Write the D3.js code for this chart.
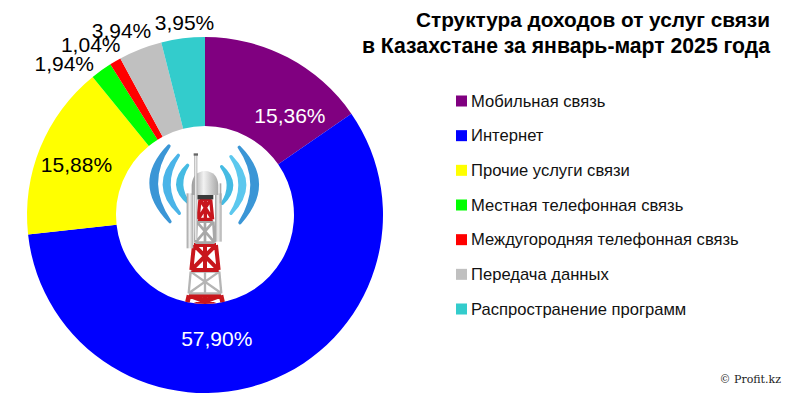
<!DOCTYPE html>
<html>
<head>
<meta charset="utf-8">
<script src="https://cdn.jsdelivr.net/npm/d3@7/dist/d3.min.js"></script>
<style>
html, body { margin: 0; padding: 0; background: #fff; }
svg { display: block; }
text { font-family: "Liberation Sans", Arial, sans-serif; }
</style>
</head>
<body>
<svg id="chart" width="800" height="400"></svg>
<script>
var categories = [
    "Мобильная связь",
    "Интернет",
    "Прочие услуги связи",
    "Местная телефонная связь",
    "Междугородняя телефонная связь",
    "Передача данных",
    "Распространение программ"
];
var values = [15.36, 57.90, 15.88, 1.94, 1.04, 3.94, 3.95];
var colors = ["#800080", "#0000ff", "#ffff00", "#00ff00", "#ff0000", "#c0c0c0", "#33cccc"];
var labelColors = ["#fff", "#fff", "#000", "#000", "#000", "#000", "#000"];
var titleLines = ["Структура доходов от услуг связи", "в Казахстане за январь-март 2025 года"];

// label offsets from the slice centroid, the source chart moved them by hand
var labelShift = [[23, 19], [-35, -1], [-5, 0], [-63, -43], [-47, -55], [-35, -60], [-4, -60]];

var svg = d3.select("#chart");
var cx = 205, cy = 215, outerR = 178, innerR = 89;

var pie = d3.pie().sort(null).value(function (d) { return d; });
var arc = d3.arc().innerRadius(innerR).outerRadius(outerR);
var slices = pie(values);

var g = svg.append("g").attr("transform", "translate(" + cx + "," + cy + ")");
g.selectAll("path.slice")
    .data(slices)
    .enter().append("path")
    .attr("class", "slice")
    .attr("d", arc)
    .attr("fill", function (d, i) { return colors[i]; });

function fmt(v) { return v.toFixed(2).replace(".", ",") + "%"; }

g.selectAll("text.label")
    .data(slices)
    .enter().append("text")
    .attr("class", "label")
    .attr("text-anchor", "middle")
    .attr("dy", "0.35em")
    .attr("font-size", 21)
    .attr("fill", function (d, i) { return labelColors[i]; })
    .attr("x", function (d, i) { return arc.centroid(d)[0] + labelShift[i][0]; })
    .attr("y", function (d, i) { return arc.centroid(d)[1] + labelShift[i][1]; })
    .text(function (d) { return fmt(d.value); });

// tower picture in the hole, local units are 3x screen pixels
svg.append("clipPath").attr("id", "hole")
    .append("circle").attr("cx", cx).attr("cy", cy).attr("r", innerR);
var tower = svg.append("g").attr("clip-path", "url(#hole)")
    .append("g").attr("transform", "translate(120,130) scale(0.3333)");

var waves = [
    ["M147,48 Q38,160 150,275 Q70,160 147,48 Z", "#3b96d6"],
    ["M175,76 Q89,165 178,250 Q118,165 175,76 Z", "#4ab4e8"],
    ["M203,106 Q141,165 207,220 Q165,165 203,106 Z", "#45bbe3"],
    ["M358,52 Q465,160 360,278 Q433,160 358,52 Z", "#3b96d6"],
    ["M333,80 Q415,165 333,250 Q387,165 333,80 Z", "#5cc8ee"],
    ["M305,110 Q364,165 307,220 Q344,165 305,110 Z", "#45bbe3"]
];
tower.selectAll("path.wave").data(waves).enter().append("path")
    .attr("class", "wave")
    .attr("d", function (d) { return d[0]; })
    .attr("fill", function (d) { return d[1]; })
    .attr("stroke", function (d) { return d[1]; })
    .attr("stroke-width", 10)
    .attr("stroke-linejoin", "round");

var grayGrad = svg.append("linearGradient").attr("id", "metal");
grayGrad.append("stop").attr("offset", "0").attr("stop-color", "#9a9a9a");
grayGrad.append("stop").attr("offset", "0.45").attr("stop-color", "#f2f2f2");
grayGrad.append("stop").attr("offset", "1").attr("stop-color", "#a8a8a8");

function lattice(x1top, x2top, x1bot, x2bot, y1, y2, color, w) {
    var p = "M" + x1top + "," + y1 + "L" + x1bot + "," + y2 +
        "M" + x2top + "," + y1 + "L" + x2bot + "," + y2 +
        "M" + x1top + "," + y1 + "L" + x2bot + "," + y2 +
        "M" + x2top + "," + y1 + "L" + x1bot + "," + y2 +
        "M" + x1top + "," + y1 + "L" + x2top + "," + y1 +
        "M" + x1bot + "," + y2 + "L" + x2bot + "," + y2 +
        "M" + (x1top + x2top) / 2 + "," + y1 + "L" + (x1bot + x2bot) / 2 + "," + y2;
    tower.append("path").attr("d", p).attr("stroke", color).attr("stroke-width", w).attr("fill", "none");
}

lattice(207, 303, 198, 312, 496, 535, "#c8161d", 14);
lattice(212, 298, 206, 304, 425, 490, "#b5b5b5", 7);
lattice(222, 288, 214, 296, 345, 420, "#c8161d", 12);
lattice(230, 280, 226, 284, 275, 338, "#a8a8a8", 8);
lattice(240, 272, 234, 278, 208, 268, "#c8161d", 10);

// side panels, mast and dome
tower.append("rect").attr("x", 200).attr("y", 190).attr("width", 20).attr("height", 165).attr("fill", "url(#metal)");
tower.append("rect").attr("x", 285).attr("y", 190).attr("width", 20).attr("height", 145).attr("fill", "url(#metal)");
tower.append("path").attr("d", "M215,195 L215,165 Q218,125 255,123 Q292,125 295,165 L295,195 Z").attr("fill", "url(#metal)");
tower.append("rect").attr("x", 232).attr("y", 195).attr("width", 48).attr("height", 13).attr("fill", "#3a3a3a");
tower.append("rect").attr("x", 223).attr("y", 75).attr("width", 9).attr("height", 255).attr("fill", "url(#metal)");
tower.append("rect").attr("x", 221).attr("y", 70).attr("width", 13).attr("height", 7).attr("fill", "#666");
tower.append("rect").attr("x", 299).attr("y", 160).attr("width", 5).attr("height", 60).attr("fill", "#aaa");

var titleSizes = [20.8, 21.2];
svg.selectAll("text.title")
    .data(titleLines)
    .enter().append("text")
    .attr("class", "title")
    .attr("x", 770)
    .attr("y", function (d, i) { return 27 + i * 26; })
    .attr("text-anchor", "end")
    .attr("font-size", function (d, i) { return titleSizes[i]; })
    .attr("font-weight", "bold")
    .attr("fill", "#000")
    .text(function (d) { return d; });

// legend
var legendY = d3.scalePoint().domain(categories).range([101, 309]);
var legend = svg.selectAll("g.legend")
    .data(categories)
    .enter().append("g")
    .attr("class", "legend")
    .attr("transform", function (d) { return "translate(456," + legendY(d) + ")"; });
legend.append("rect")
    .attr("x", 0).attr("y", -5.5)
    .attr("width", 11).attr("height", 11)
    .attr("fill", function (d, i) { return colors[i]; });
legend.append("text")
    .attr("x", 15)
    .attr("dy", "0.35em")
    .attr("font-size", 16.6)
    .attr("fill", "#111")
    .text(function (d) { return d; });

svg.append("text")
    .attr("x", 781).attr("y", 383)
    .attr("text-anchor", "end")
    .attr("font-size", 11)
    .style("font-family", "'DejaVu Serif', serif")
    .attr("fill", "#222")
    .text("© Profit.kz");
</script>
</body>
</html>
